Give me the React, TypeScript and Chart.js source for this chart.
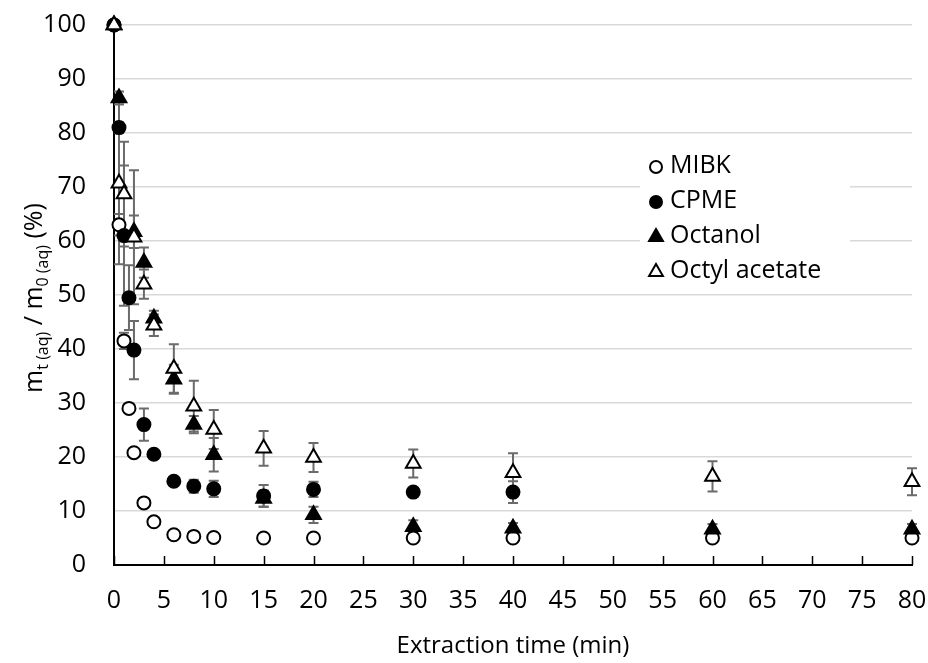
import React, { useEffect, useRef } from 'react';
import { Chart, registerables } from 'chart.js';

Chart.register(...registerables);

const FONT = '"Open Sans", sans-serif';

// ---- Data ----
const timeMIBK = [0, 0.5, 1, 1.5, 2, 3, 4, 6, 8, 10, 15, 20, 30, 40, 60, 80];
const valMIBK = [100, 63, 41.5, 29, 20.8, 11.5, 8, 5.6, 5.3, 5.1, 5.0, 5.0, 5.0, 5.0, 5.0, 5.0];
const errMIBK = [0, 2, 1.5, 0.5, 0.5, 0.5, 0.3, 0.3, 0.3, 0.3, 0.3, 0.3, 0.3, 0.3, 0.3, 0.3];

const timeCPME = [0, 0.5, 1, 1.5, 2, 3, 4, 6, 8, 10, 15, 20, 30, 40];
const valCPME = [100, 81, 61, 49.5, 39.8, 26, 20.5, 15.5, 14.6, 14.1, 12.8, 14.0, 13.5, 13.5];
const errCPME = [0, 1, 13, 6, 5.4, 3, 0.8, 0.6, 1.2, 1.5, 2, 1.4, 0.3, 2];

const timeOctanol = [0, 0.5, 2, 3, 4, 6, 8, 10, 15, 20, 30, 40, 60, 80];
const valOctanol = [100, 86.5, 61.7, 56, 45.7, 34.4, 26, 20.4, 12.3, 9.3, 7.1, 6.8, 6.6, 6.6];
const errOctanol = [0, 1.2, 3, 2.8, 1.4, 2.7, 1.6, 3.1, 1.5, 1.5, 1.2, 1, 1, 1];

const timeOctyl = [0, 0.5, 1, 2, 3, 4, 6, 8, 10, 15, 20, 30, 40, 60, 80];
const valOctyl = [100, 70.7, 68.7, 60.7, 52, 44.4, 36.4, 29.4, 25.1, 21.6, 19.9, 18.8, 17.1, 16.4, 15.4];
const errOctyl = [0, 15, 9.7, 12.4, 2.7, 2, 4.5, 4.7, 3.6, 3.2, 2.7, 2.6, 3.6, 2.8, 2.5];

const seriesNames = ['MIBK', 'CPME', 'Octanol', 'Octyl acetate'];
const xAxisTitle = 'Extraction time (min)';

const ERR_COLOR = '#6b6b6b';
const GRID_COLOR = '#d9d9d9';

function pts(t: number[], v: number[]) {
  return t.map((x, i) => ({ x, y: v[i] }));
}

function drawMarker(ctx: CanvasRenderingContext2D, style: string, filled: boolean, x: number, y: number, r: number) {
  ctx.save();
  ctx.beginPath();
  if (style === 'circle') {
    ctx.arc(x, y, r, 0, Math.PI * 2);
  } else {
    let rad = 0;
    ctx.moveTo(x + Math.sin(rad) * r, y - Math.cos(rad) * r);
    rad += (2 * Math.PI) / 3;
    ctx.lineTo(x + Math.sin(rad) * r, y - Math.cos(rad) * r);
    rad += (2 * Math.PI) / 3;
    ctx.lineTo(x + Math.sin(rad) * r, y - Math.cos(rad) * r);
    ctx.closePath();
  }
  ctx.fillStyle = filled ? '#000' : '#fff';
  ctx.fill();
  ctx.lineWidth = 2;
  ctx.strokeStyle = '#000';
  ctx.stroke();
  ctx.restore();
}

const errorBarPlugin = {
  id: 'errorBars',
  beforeDatasetsDraw(chart: any) {
    const ctx = chart.ctx as CanvasRenderingContext2D;
    const xs = chart.scales.x;
    const ys = chart.scales.y;
    ctx.save();
    ctx.strokeStyle = ERR_COLOR;
    ctx.lineWidth = 2;
    chart.data.datasets.forEach((ds: any) => {
      const errs: number[] = ds.errors || [];
      ds.data.forEach((p: any, i: number) => {
        const e = errs[i];
        if (!e) return;
        const px = xs.getPixelForValue(p.x);
        const yHi = ys.getPixelForValue(p.y + e);
        const yLo = ys.getPixelForValue(p.y - e);
        const cap = 5;
        ctx.beginPath();
        ctx.moveTo(px, yHi);
        ctx.lineTo(px, yLo);
        ctx.moveTo(px - cap, yHi);
        ctx.lineTo(px + cap, yHi);
        ctx.moveTo(px - cap, yLo);
        ctx.lineTo(px + cap, yLo);
        ctx.stroke();
      });
    });
    ctx.restore();
  },
};

const decorPlugin = {
  id: 'decor',
  afterDraw(chart: any) {
    const ctx = chart.ctx as CanvasRenderingContext2D;
    const xs = chart.scales.x;
    const area = chart.chartArea;
    // inside tick marks on x axis
    ctx.save();
    ctx.strokeStyle = '#000';
    ctx.lineWidth = 1.5;
    xs.ticks.forEach((t: any) => {
      const px = Math.round(xs.getPixelForValue(t.value)) + 0.5;
      ctx.beginPath();
      ctx.moveTo(px, area.bottom);
      ctx.lineTo(px, area.bottom - 9);
      ctx.stroke();
    });
    ctx.restore();

    // y-axis title with subscripts
    ctx.save();
    ctx.translate(42, 298);
    ctx.rotate(-Math.PI / 2);
    ctx.fillStyle = '#000';
    ctx.textBaseline = 'alphabetic';
    const big = `25px ${FONT}`;
    const small = `16px ${FONT}`;
    const segs: [string, string, number][] = [
      ['m', big, 0],
      ['t (aq)', small, 6],
      [' / m', big, 0],
      ['0 (aq)', small, 6],
      [' (%)', big, 0],
    ];
    let total = 0;
    segs.forEach(([s, f]) => {
      ctx.font = f;
      total += ctx.measureText(s).width;
    });
    let cx = -total / 2;
    segs.forEach(([s, f, dy]) => {
      ctx.font = f;
      ctx.fillText(s, cx, dy);
      cx += ctx.measureText(s).width;
    });
    ctx.restore();

    // legend
    ctx.save();
    const boxX = 640, boxY = 146, boxW = 210, boxH = 143;
    ctx.fillStyle = '#fff';
    ctx.fillRect(boxX, boxY, boxW, boxH);
    const styles: [string, boolean][] = [
      ['circle', false],
      ['circle', true],
      ['triangle', true],
      ['triangle', false],
    ];
    ctx.font = `25px ${FONT}`;
    ctx.textBaseline = 'middle';
    ctx.textAlign = 'left';
    seriesNames.forEach((name, i) => {
      const cy = 166 + i * 35;
      const [st, filled] = styles[i];
      drawMarker(ctx, st, filled, 656, cy + 1, st === 'circle' ? 6 : 8);
      ctx.fillStyle = '#000';
      ctx.fillText(name, 670, cy);
    });
    ctx.restore();
  },
};

export default function App() {
  const ref = useRef<HTMLCanvasElement | null>(null);

  useEffect(() => {
    if (!ref.current) return;
    const common = { showLine: false, pointBorderColor: '#000', pointBorderWidth: 2, clip: false };
    const chart = new Chart(ref.current, {
      type: 'scatter',
      data: {
        datasets: [
          {
            ...common,
            label: seriesNames[0],
            data: pts(timeMIBK, valMIBK),
            errors: errMIBK,
            pointStyle: 'circle',
            pointRadius: 6.5,
            pointBackgroundColor: '#fff',
            order: 3,
          } as any,
          {
            ...common,
            label: seriesNames[1],
            data: pts(timeCPME, valCPME),
            errors: errCPME,
            pointStyle: 'circle',
            pointRadius: 6.5,
            pointBackgroundColor: '#000',
            order: 2,
          } as any,
          {
            ...common,
            label: seriesNames[2],
            data: pts(timeOctanol, valOctanol),
            errors: errOctanol,
            pointStyle: 'triangle',
            pointRadius: 8.5,
            pointBackgroundColor: '#000',
            order: 1,
          } as any,
          {
            ...common,
            label: seriesNames[3],
            data: pts(timeOctyl, valOctyl),
            errors: errOctyl,
            pointStyle: 'triangle',
            pointRadius: 8.5,
            pointBackgroundColor: '#fff',
            order: 0,
          } as any,
        ],
      },
      options: {
        animation: false,
        responsive: false,
        devicePixelRatio: 1,
        layout: { padding: { top: 25, right: 16, left: 0, bottom: 0 } },
        plugins: { legend: { display: false }, tooltip: { enabled: false } },
        scales: {
          x: {
            type: 'linear',
            min: 0,
            max: 80,
            ticks: { stepSize: 5, color: '#000', font: { family: FONT, size: 25 }, padding: 21, maxRotation: 0 },
            grid: { display: false, drawTicks: false },
            border: { display: true, color: '#000', width: 2 },
            title: {
              display: true,
              text: xAxisTitle,
              color: '#000',
              font: { family: FONT, size: 24 },
              padding: { top: 0, bottom: 2 },
            },
            afterFit: (s: any) => {
              s.height = 98;
              s.paddingLeft = 0;
              s.paddingRight = 0;
            },
          },
          y: {
            type: 'linear',
            min: 0,
            max: 100,
            ticks: { stepSize: 10, color: '#000', font: { family: FONT, size: 25 }, padding: 28 },
            grid: { color: GRID_COLOR, lineWidth: 1.5, drawTicks: false },
            border: { display: true, color: '#000', width: 2 },
            afterFit: (s: any) => {
              s.width = 114;
              s.paddingTop = 0;
              s.paddingBottom = 0;
            },
          },
        },
      },
      plugins: [errorBarPlugin, decorPlugin],
    } as any);
    return () => chart.destroy();
  }, []);

  return (
    <div style={{ position: 'fixed', left: 0, top: 0, width: 928, height: 663, background: '#fff' }}>
      <canvas ref={ref} width={928} height={663} />
    </div>
  );
}
